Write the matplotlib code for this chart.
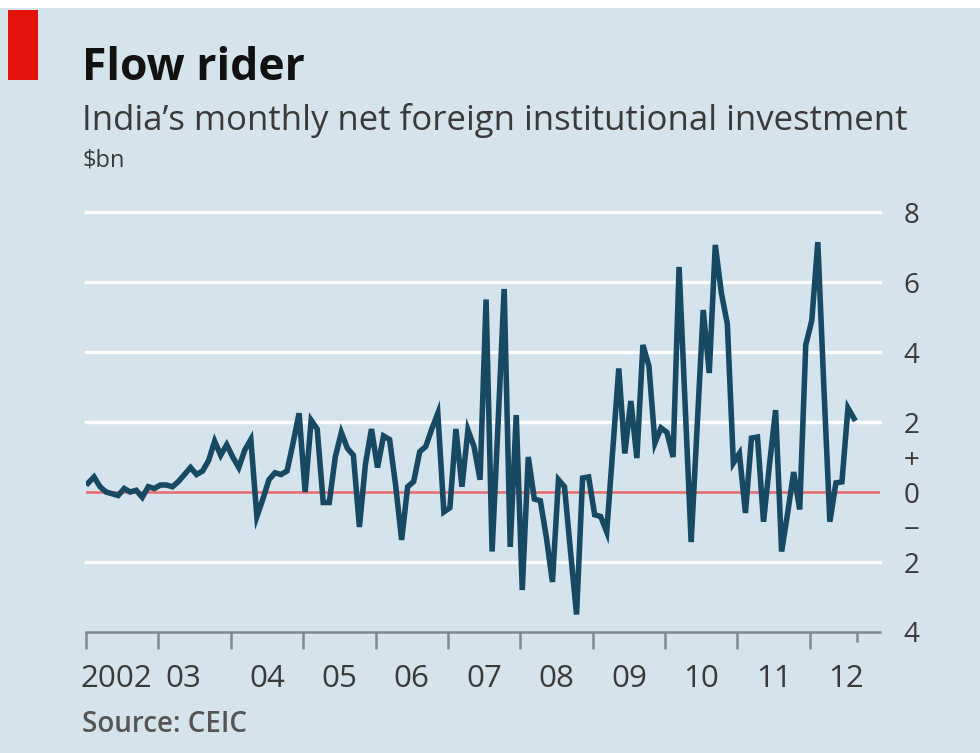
import numpy as np
import pandas as pd
import matplotlib
matplotlib.use('Agg')
import matplotlib.pyplot as plt
from matplotlib.patches import Rectangle

# Monthly net foreign institutional investment, $bn, Jan 2002 - Aug 2012
fii = [
    # 2002
    0.25, 0.43, 0.15, 0.0, -0.05, -0.1, 0.1, 0.0, 0.05, -0.15, 0.15, 0.1,
    # 2003
    0.2, 0.2, 0.15, 0.3, 0.5, 0.7, 0.5, 0.6, 0.9, 1.45, 1.05, 1.35,
    # 2004
    1.0, 0.7, 1.2, 1.5, -0.7, -0.2, 0.35, 0.55, 0.5, 0.6, 1.4, 2.25,
    # 2005
    0.0, 2.05, 1.8, -0.3, -0.3, 1.0, 1.7, 1.25, 1.05, -1.0, 0.8, 1.8,
    # 2006
    0.7, 1.6, 1.5, 0.2, -1.37, 0.15, 0.3, 1.15, 1.3, 1.8, 2.25, -0.57,
    # 2007
    -0.45, 1.8, 0.15, 1.77, 1.3, 0.35, 5.5, -1.7, 2.0, 5.8, -1.57, 2.2,
    # 2008
    -2.8, 1.0, -0.2, -0.25, -1.3, -2.57, 0.35, 0.15, -1.7, -3.5, 0.4, 0.43,
    # 2009
    -0.65, -0.7, -1.14, 1.2, 3.53, 1.1, 2.6, 0.97, 4.2, 3.6, 1.4, 1.83,
    # 2010
    1.7, 1.0, 6.43, 2.5, -1.43, 1.9, 5.2, 3.4, 7.06, 5.7, 4.8, 0.83,
    # 2011
    1.1, -0.6, 1.54, 1.57, -0.85, 0.8, 2.34, -1.7, -0.6, 0.57, -0.5, 4.2,
    # 2012
    4.9, 7.14, 3.0, -0.85, 0.26, 0.29, 2.4, 2.1,
]
months = pd.date_range('2002-01-01', periods=len(fii), freq='MS')

years = list(range(2002, 2013))
year_labels = ['2002', '03', '04', '05', '06', '07', '08', '09', '10', '11', '12']
y_ticks = [8, 6, 4, 2, 1, 0, -1, -2, -4]
y_labels = ['8', '6', '4', '2', '+', '0', '\u2212', '2', '4']

bg = '#d5e3ec'
line_col = '#174a62'
red = '#e3120b'
txt = '#3a3a3a'

plt.rcParams['font.family'] = ['Open Sans', 'DejaVu Sans']

# decimal years for plotting
t = months.year + (months.month - 1 + 0.33) / 12

fig = plt.figure(figsize=(9.8, 7.53), dpi=100, facecolor='white')
fig.patches.append(Rectangle((0, 0), 1, 1 - 8 / 753, transform=fig.transFigure,
                             facecolor=bg, edgecolor='none', zorder=-10))
fig.patches.append(Rectangle((8 / 980, 1 - 80 / 753), 30 / 980, 70 / 753,
                             transform=fig.transFigure, facecolor=red,
                             edgecolor='none', zorder=-5))

ax = fig.add_axes([86 / 980, 1 - 632 / 753, 794 / 980, 420 / 753])
ax.set_facecolor(bg)
for s in ax.spines.values():
    s.set_visible(False)

ax.set_xlim(2002, 2012.97)
ax.set_ylim(-4, 8)

# white gridlines, red zero line, grey base line
for g in [8, 6, 4, 2, -2]:
    ax.axhline(g, color='white', lw=2.4, zorder=1, clip_on=False)
ax.axhline(0, color='#e8696b', lw=1.8, zorder=2)
ax.axhline(-4, color='#7e8a92', lw=1.8, zorder=2, clip_on=False)

ax.plot(t, fii, color=line_col, lw=4.0, solid_joinstyle='miter', zorder=3)

ax.yaxis.tick_right()
ax.set_yticks(y_ticks)
ax.set_yticklabels(y_labels)
ax.tick_params(axis='y', length=0, pad=17, labelsize=20, labelcolor=txt)

ax.set_xticks(years + [2012.65])
ax.set_xticklabels([])
ax.tick_params(axis='x', direction='out', length=12, width=1.8, color='#7e8a92')
ax.xaxis.get_major_ticks()[-1].tick1line.set_markersize(7)

label_x = [y + 0.5 for y in years]
label_x[0] = 2001.93
label_x[1] = 2003.35
for i, (x, lab) in enumerate(zip(label_x, year_labels)):
    ax.text(x, -5.35, lab, ha='left' if i == 0 else 'center', va='center',
            fontsize=22.5, color=txt, clip_on=False)

fig.text(82 / 980, 1 - 68 / 753, 'Flow rider', fontsize=32, fontweight='bold',
         color='#111111', va='center', ha='left')
fig.text(82 / 980, 1 - 120 / 753,
         'India\u2019s monthly net foreign institutional investment',
         fontsize=25, color=txt, va='center', ha='left')
fig.text(82 / 980, 1 - 160 / 753, '$bn', fontsize=17, color=txt,
         va='center', ha='left')
fig.text(82 / 980, 1 - 725 / 753, 'Source: CEIC', fontsize=20,
         fontweight='semibold', color='#555555', va='center', ha='left')

fig.savefig('out.png', dpi=100, facecolor=fig.get_facecolor())
